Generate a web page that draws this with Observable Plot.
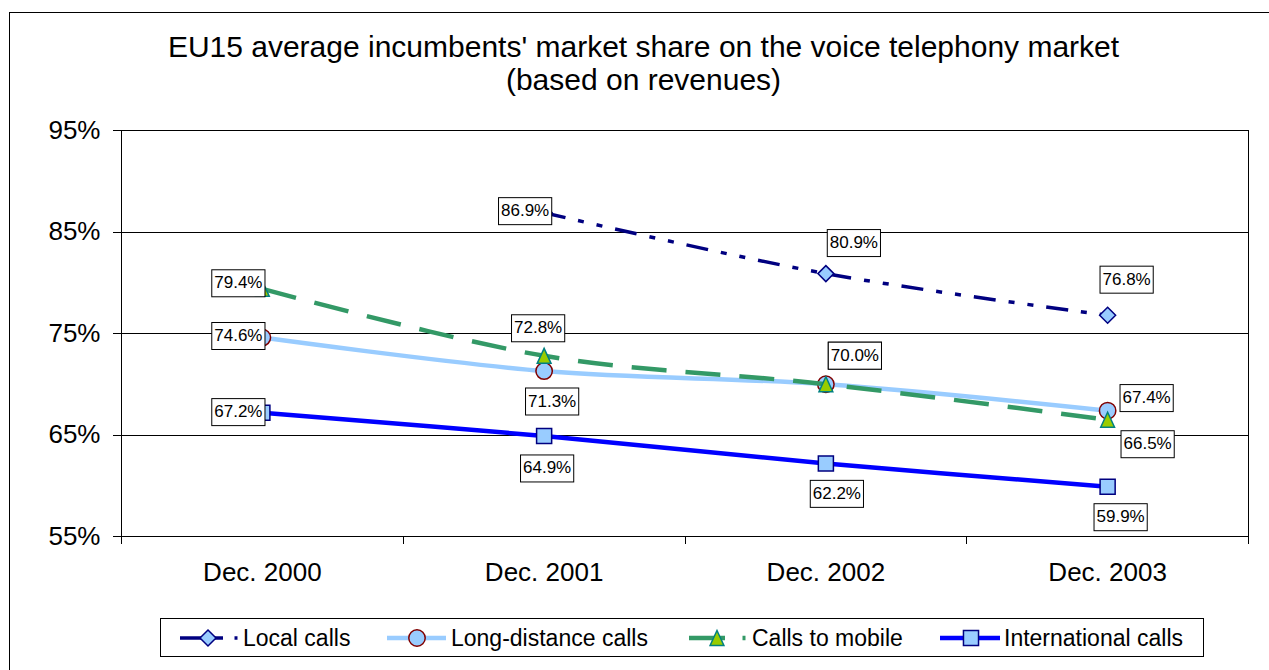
<!DOCTYPE html>
<html>
<head>
<meta charset="utf-8">
<script src="https://cdn.jsdelivr.net/npm/d3@7"></script>
<script src="https://cdn.jsdelivr.net/npm/@observablehq/plot@0.6"></script>
<style>
  html, body { margin: 0; padding: 0; background: #fff; }
  body { width: 1269px; height: 670px; overflow: hidden; position: relative; font-family: "Liberation Sans", Arial, sans-serif; }
  #frame { position: absolute; left: 9px; top: 12px; width: 1400px; height: 800px; border: 1px solid #000; box-sizing: border-box; }
  #title { position: absolute; left: 9px; top: 30px; width: 1269px; text-align: center; font-size: 30px; line-height: 33px; color: #000; }
  #chart { position: absolute; left: 0; top: 110px; }
  #legend { position: absolute; left: 0; top: 600px; }
</style>
</head>
<body>
<div id="frame"></div>
<div id="title">EU15 average incumbents' market share on the voice telephony market<br>(based on revenues)</div>
<div id="chart"></div>
<svg id="legend" width="1269" height="70"></svg>
<script>
// ---- data ----
const categories = ["Dec. 2000", "Dec. 2001", "Dec. 2002", "Dec. 2003"];
const seriesNames = ["Local calls", "Long-distance calls", "Calls to mobile", "International calls"];
const localCalls = [null, 86.9, 80.9, 76.8];
const longDistanceCalls = [74.6, 71.3, 70.0, 67.4];
const callsToMobile = [79.4, 72.8, 70.0, 66.5];
const internationalCalls = [67.2, 64.9, 62.2, 59.9];
const yTicks = [55, 65, 75, 85, 95];

// ---- styles / label placement (pixels) ----
const seriesValues = [localCalls, longDistanceCalls, callsToMobile, internationalCalls];
const triangleTall = {
  draw(ctx, size) {
    const r = Math.sqrt(size / Math.PI);
    ctx.moveTo(0, -r); ctx.lineTo(0.92 * r, r); ctx.lineTo(-0.92 * r, r); ctx.closePath();
  }
};
const styles = [
  {stroke: "#000080", width: 3.5, dash: "22,13,6,13,6,13", symbol: "diamond2", fill: "#99CCFF", mstroke: "#000080", r: 7.2},
  {stroke: "#99CCFF", width: 4.5, dash: null, symbol: "circle", fill: "#99CCFF", mstroke: "#800000", r: 8.2},
  {stroke: "#339966", width: 4.5, dash: "35,19", symbol: triangleTall, fill: "#99CC00", mstroke: "#008080", r: 7.5},
  {stroke: "#0000FF", width: 4.5, dash: null, symbol: "square", fill: "#99CCFF", mstroke: "#000080", r: 8.5}
];
const labelOffsets = [
  [null, [-19, -2], [28, -31], [19, -36]],
  [[-24, -2], [8, 30], [29, -29], [39, -13]],
  [[-24, -6], [-6, -28], [29, -29], [40, 24]],
  [[-24, -1], [3, 32], [11, 30], [13, 30]]
];

const rows = [];
seriesValues.forEach((vals, k) => vals.forEach((v, i) => {
  if (v != null) rows.push({series: seriesNames[k], k, i, v});
}));

const marks = [
  Plot.ruleY([65, 75, 85], {stroke: "#000", strokeWidth: 1, shapeRendering: "crispEdges"}),
  Plot.frame({stroke: "#000", strokeWidth: 1, shapeRendering: "crispEdges"}),
  Plot.axisY({ticks: yTicks, tickFormat: d => d + "%", tickSize: 8, tickPadding: 13, label: null, shapeRendering: "crispEdges"}),
  Plot.axisX({ticks: [-0.5, 0.5, 1.5, 2.5, 3.5], tickFormat: () => "", tickSize: 8, label: null, shapeRendering: "crispEdges"}),
  Plot.axisX({ticks: [0, 1, 2, 3], tickFormat: i => categories[i], tickSize: 0, tickPadding: 26, label: null})
];
styles.forEach((s, k) => {
  const d = rows.filter(r => r.k === k);
  const lineOpts = {x: "i", y: "v", stroke: s.stroke, strokeWidth: s.width, curve: "catmull-rom", strokeLinecap: "butt", strokeLinejoin: "round"};
  if (s.dash) lineOpts.strokeDasharray = s.dash;
  marks.push(Plot.line(d, lineOpts));
  marks.push(Plot.dot(d, {x: "i", y: "v", symbol: s.symbol, r: s.r, fill: s.fill, stroke: s.mstroke, strokeWidth: 1.5}));
});
rows.forEach(row => {
  const off = labelOffsets[row.k][row.i];
  marks.push(Plot.text([row], {x: "i", y: "v", text: r => r.v.toFixed(1) + "%", dx: off[0], dy: off[1], fontSize: 17, fill: "#000"}));
});

const plot = Plot.plot({
  width: 1269,
  height: 490,
  marginTop: 20,
  marginBottom: 64,
  marginLeft: 121,
  marginRight: 21,
  x: {domain: [-0.5, 3.5]},
  y: {domain: [55, 95]},
  style: {fontFamily: "'Liberation Sans', Arial, sans-serif", fontSize: "26px", color: "#000", background: "transparent", overflow: "visible"},
  marks
});
document.getElementById("chart").append(plot);

// boxes behind data labels
const NS = "http://www.w3.org/2000/svg";
plot.querySelectorAll('g[aria-label="text"] text').forEach(t => {
  const b = t.getBBox();
  const rect = document.createElementNS(NS, "rect");
  const cy = b.y + b.height / 2 + 0.5;
  rect.setAttribute("x", b.x - 2.5);
  rect.setAttribute("y", cy - 13.5);
  rect.setAttribute("width", b.width + 5);
  rect.setAttribute("height", 27);
  rect.setAttribute("fill", "#fff");
  rect.setAttribute("stroke", "#000");
  rect.setAttribute("stroke-width", 1);
  const tr = t.getAttribute("transform");
  if (tr) rect.setAttribute("transform", tr);
  t.parentNode.insertBefore(rect, t);
});

// ---- legend ----
const lg = d3.select("#legend");
const ly = 38; // center line within legend svg
lg.append("rect").attr("x", 160.5).attr("y", 18.5).attr("width", 1043).attr("height", 38)
  .attr("fill", "#fff").attr("stroke", "#000");
const legendItems = [
  {k: 0, x0: 180, x1: 223, mx: 208, dotx: 236, tx: 243},
  {k: 1, x0: 387, x1: 446, mx: 417, dotx: null, tx: 451},
  {k: 2, x0: 689, x1: 725, mx: 717, dotx: 744, tx: 752},
  {k: 3, x0: 940, x1: 1000, mx: 971, dotx: null, tx: 1004}
];
legendItems.forEach(it => {
  const s = styles[it.k];
  lg.append("line").attr("x1", it.x0).attr("x2", it.x1).attr("y1", ly).attr("y2", ly)
    .attr("stroke", s.stroke).attr("stroke-width", s.width);
  if (it.dotx != null) {
    lg.append("line").attr("x1", it.dotx - 1.5).attr("x2", it.dotx + 1.5).attr("y1", ly).attr("y2", ly)
      .attr("stroke", s.stroke).attr("stroke-width", s.width);
  }
  let sym = s.symbol;
  if (typeof sym === "string") sym = {diamond2: d3.symbolDiamond2, circle: d3.symbolCircle, square: d3.symbolSquare}[sym];
  lg.append("path").attr("d", d3.symbol(sym, Math.PI * s.r * s.r)())
    .attr("transform", `translate(${it.mx},${ly})`)
    .attr("fill", s.fill).attr("stroke", s.mstroke).attr("stroke-width", 1.5);
  lg.append("text").attr("x", it.tx).attr("y", ly).attr("dy", "0.36em")
    .attr("font-size", 23).attr("font-family", "'Liberation Sans', Arial, sans-serif")
    .attr("fill", "#000").text(seriesNames[it.k]);
});
</script>
</body>
</html>
